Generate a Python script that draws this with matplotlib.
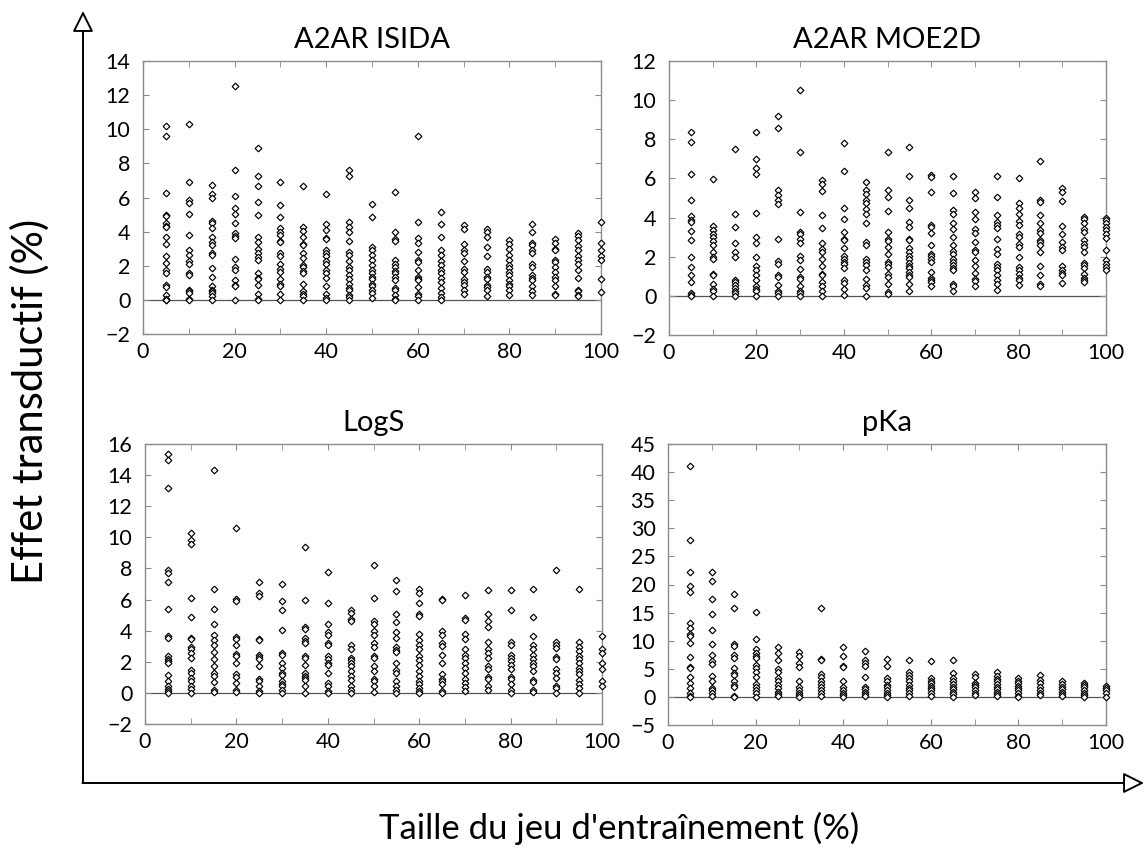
import numpy as np
import matplotlib
matplotlib.use("Agg")
import matplotlib.pyplot as plt
from matplotlib.patches import FancyArrowPatch

plt.rcParams['font.family'] = ['Lato', 'DejaVu Sans']

# training set sizes (%)
sizes = [5, 10, 15, 20, 25, 30, 35, 40, 45, 50, 55, 60, 65, 70, 75, 80, 85, 90, 95, 100]

titles = ["A2AR ISIDA", "A2AR MOE2D", "LogS", "pKa"]

# transductive effect (%), one list per training size
isida = [
    [10.2, 9.6, 6.25, 5.0, 4.9, 4.5, 4.35, 4.25, 3.7, 3.3, 2.6, 2.15, 1.75, 1.55, 0.85, 0.75, 0.3, 0.05, 0.0, 0.0],
    [10.3, 6.9, 5.85, 5.65, 5.05, 3.8, 2.9, 2.65, 2.25, 2.1, 1.6, 1.45, 0.6, 0.5, 0.4, 0.05, 0.0],
    [6.75, 6.2, 6.0, 4.6, 4.5, 4.2, 3.7, 3.4, 3.2, 2.75, 2.65, 1.85, 1.35, 0.8, 0.6, 0.5, 0.4, 0.2, 0.0],
    [12.55, 7.6, 6.1, 5.4, 5.05, 4.5, 3.9, 3.75, 3.6, 2.4, 1.95, 1.75, 1.15, 0.9, 0.8, 0.0],
    [8.9, 7.25, 6.65, 5.75, 4.95, 3.7, 3.4, 3.0, 2.75, 2.5, 2.35, 1.55, 1.3, 1.2, 0.9, 0.35, 0.05, 0.0],
    [6.9, 5.55, 4.85, 4.2, 3.95, 3.8, 3.45, 3.4, 2.75, 2.55, 2.1, 1.8, 1.65, 1.25, 0.95, 0.8, 0.35, 0.0],
    [6.7, 4.3, 4.05, 3.7, 3.3, 3.2, 2.75, 2.45, 2.05, 1.9, 1.7, 1.55, 0.95, 0.5, 0.35, 0.2, 0.0],
    [6.2, 4.45, 4.1, 3.65, 3.55, 2.9, 2.75, 2.55, 2.3, 2.1, 1.75, 1.55, 1.3, 0.8, 0.35, 0.1, 0.0],
    [7.6, 7.25, 4.55, 4.3, 3.95, 3.45, 2.8, 2.65, 2.25, 1.95, 1.75, 1.45, 1.25, 0.95, 0.7, 0.55, 0.3, 0.15, 0.0],
    [5.6, 4.85, 3.1, 2.9, 2.65, 2.35, 2.05, 1.75, 1.55, 1.35, 1.2, 0.95, 0.8, 0.6, 0.4, 0.1],
    [6.3, 3.95, 3.55, 3.45, 2.35, 2.1, 1.9, 1.7, 1.55, 1.35, 1.15, 0.7, 0.55, 0.3, 0.05, 0.0],
    [9.6, 4.55, 3.6, 3.35, 2.8, 2.35, 2.2, 1.75, 1.35, 1.25, 1.15, 0.75, 0.35, 0.2, 0.0],
    [5.15, 4.45, 3.7, 2.95, 2.65, 2.25, 2.05, 1.75, 1.55, 1.3, 1.05, 0.7, 0.4, 0.15, 0.0],
    [4.4, 4.15, 3.3, 2.9, 2.75, 2.25, 1.8, 1.65, 1.2, 1.05, 0.9, 0.6, 0.35],
    [4.15, 3.95, 3.7, 3.1, 2.6, 1.8, 1.65, 1.35, 1.2, 0.9, 0.75, 0.6, 0.2],
    [3.5, 3.3, 3.0, 2.65, 2.35, 2.05, 1.85, 1.65, 1.45, 1.15, 0.95, 0.8, 0.6, 0.3],
    [4.45, 3.95, 3.35, 3.2, 2.9, 2.75, 2.1, 1.95, 1.45, 1.3, 1.15, 0.8, 0.5, 0.3],
    [3.55, 3.35, 3.0, 2.9, 2.35, 2.2, 1.95, 1.65, 1.35, 1.15, 0.8, 0.35, 0.3],
    [3.9, 3.75, 3.5, 3.15, 2.95, 2.55, 2.35, 2.1, 1.75, 1.3, 0.6, 0.5, 0.3, 0.2],
    [4.55, 3.35, 2.95, 2.55, 2.35, 1.25, 0.45],
]

moe2d = [
    [8.35, 7.85, 6.25, 4.9, 4.1, 3.9, 3.75, 3.3, 2.85, 2.0, 1.45, 1.05, 0.7, 0.15, 0.05, 0.0],
    [5.95, 3.55, 3.35, 3.15, 3.0, 2.8, 2.6, 2.25, 2.0, 1.9, 1.1, 1.05, 0.6, 0.35, 0.25, 0.0],
    [7.5, 4.2, 3.5, 2.7, 2.25, 2.0, 0.8, 0.7, 0.55, 0.4, 0.25, 0.15, 0.0],
    [8.35, 7.0, 6.55, 6.25, 4.25, 3.0, 2.7, 2.0, 1.55, 1.3, 1.05, 0.8, 0.5, 0.35, 0.25, 0.0],
    [9.2, 8.6, 5.4, 5.15, 4.9, 4.7, 2.9, 1.8, 1.65, 1.05, 0.95, 0.55, 0.25, 0.15, 0.0],
    [10.5, 7.35, 4.3, 3.25, 3.15, 2.9, 2.7, 2.05, 1.85, 1.35, 0.95, 0.85, 0.5, 0.25, 0.15, 0.0],
    [5.9, 5.7, 5.35, 4.15, 3.45, 2.7, 2.4, 2.25, 1.9, 1.55, 1.1, 1.05, 0.7, 0.5, 0.25, 0.0],
    [7.8, 6.4, 4.5, 3.95, 3.25, 2.9, 2.85, 2.45, 2.05, 1.9, 1.75, 1.65, 1.4, 0.8, 0.65, 0.35, 0.05],
    [5.8, 5.4, 5.2, 4.9, 4.75, 4.45, 4.2, 3.7, 2.75, 2.6, 1.9, 1.75, 1.6, 1.3, 0.85, 0.55, 0.4, 0.0],
    [7.35, 5.4, 5.05, 4.35, 3.25, 2.9, 2.8, 2.5, 2.15, 1.75, 1.65, 1.45, 1.1, 0.95, 0.6, 0.2, 0.1],
    [7.6, 6.1, 4.9, 4.5, 3.75, 3.5, 2.9, 2.85, 2.45, 2.25, 2.05, 1.9, 1.7, 1.55, 1.4, 1.2, 1.05, 0.95, 0.6, 0.25],
    [6.15, 6.05, 5.3, 3.6, 3.5, 3.2, 2.6, 2.15, 2.05, 1.9, 1.75, 1.2, 0.9, 0.8, 0.7, 0.5],
    [6.1, 5.25, 4.4, 4.2, 3.7, 3.4, 3.0, 2.6, 2.3, 2.15, 1.9, 1.75, 1.6, 1.4, 1.3, 0.6, 0.5, 0.25],
    [5.3, 5.0, 4.3, 3.95, 3.4, 3.2, 2.75, 2.35, 2.25, 1.85, 1.55, 1.15, 0.85, 0.75, 0.5],
    [6.1, 5.05, 4.15, 3.75, 3.6, 3.45, 2.9, 2.4, 2.15, 1.65, 1.45, 1.3, 1.05, 0.8, 0.6, 0.3],
    [6.0, 4.75, 4.5, 4.2, 3.85, 3.6, 3.15, 3.0, 2.65, 2.5, 2.0, 1.45, 1.3, 1.1, 0.9, 0.8, 0.55],
    [6.9, 4.9, 4.8, 4.15, 3.7, 3.35, 3.2, 2.85, 2.75, 2.6, 2.25, 1.55, 1.05, 0.6, 0.5],
    [5.5, 5.3, 4.85, 3.55, 3.15, 2.75, 2.5, 2.35, 1.55, 1.3, 1.15, 1.05, 0.65],
    [4.05, 3.95, 3.7, 3.4, 3.25, 2.85, 2.65, 2.5, 2.25, 1.7, 1.6, 1.4, 1.1, 0.9, 0.8, 0.7],
    [4.0, 3.9, 3.7, 3.5, 3.35, 3.15, 2.95, 2.35, 1.85, 1.65, 1.5, 1.3],
]

logs = [
    [15.35, 14.95, 13.2, 7.9, 7.7, 7.1, 5.4, 3.65, 3.55, 2.35, 2.2, 2.05, 1.95, 1.15, 0.75, 0.45, 0.25, 0.1, 0.0],
    [10.3, 9.8, 9.6, 6.1, 4.85, 3.55, 3.45, 2.95, 2.8, 2.55, 2.25, 1.45, 1.25, 0.95, 0.75, 0.45, 0.25, 0.0],
    [14.3, 6.65, 5.4, 4.45, 3.7, 3.4, 3.1, 2.6, 2.15, 1.75, 1.3, 1.1, 0.7, 0.2, 0.05],
    [10.6, 6.05, 5.9, 3.6, 3.45, 3.1, 2.5, 2.4, 1.95, 1.2, 1.05, 0.65, 0.2, 0.05],
    [7.15, 6.4, 6.2, 3.45, 3.4, 2.45, 2.3, 2.15, 1.75, 0.9, 0.75, 0.45, 0.15, 0.0],
    [7.0, 5.9, 5.35, 4.05, 2.55, 2.45, 1.9, 1.6, 1.3, 1.15, 0.75, 0.6, 0.45, 0.2, 0.0],
    [9.4, 6.0, 4.25, 4.1, 3.55, 3.35, 3.2, 2.35, 2.25, 1.8, 1.3, 1.1, 0.95, 0.8, 0.45, 0.0],
    [7.8, 5.8, 4.4, 3.9, 3.75, 3.2, 3.05, 2.4, 2.15, 1.95, 1.8, 1.3, 0.65, 0.45, 0.1, 0.0],
    [5.3, 5.15, 4.75, 4.6, 3.1, 2.8, 2.25, 2.1, 1.95, 1.7, 1.4, 1.1, 0.8, 0.45, 0.2, 0.0],
    [8.2, 6.1, 4.65, 4.45, 3.95, 3.7, 3.2, 2.95, 2.4, 2.25, 1.75, 1.4, 0.9, 0.75, 0.45, 0.05],
    [7.25, 6.55, 5.05, 4.55, 3.9, 3.55, 2.95, 2.75, 2.6, 1.95, 1.5, 1.3, 0.75, 0.45, 0.2, 0.0],
    [6.65, 6.45, 5.8, 5.1, 4.95, 3.8, 3.4, 3.05, 2.8, 2.35, 2.1, 1.8, 1.4, 1.1, 0.75, 0.55, 0.3, 0.1, 0.0],
    [6.05, 5.95, 3.95, 3.75, 3.2, 3.0, 2.45, 1.95, 1.2, 0.9, 0.75, 0.55, 0.1, 0.0],
    [6.3, 4.8, 4.7, 3.8, 3.45, 2.8, 2.45, 2.25, 1.95, 1.6, 1.3, 0.9, 0.65, 0.4, 0.15],
    [6.6, 5.1, 4.65, 4.25, 3.25, 2.8, 2.55, 2.25, 1.7, 1.55, 1.05, 0.9, 0.45, 0.2],
    [6.6, 5.35, 3.25, 3.1, 2.45, 2.25, 2.05, 1.8, 1.55, 1.05, 0.9, 0.6, 0.2, 0.0],
    [6.7, 4.9, 3.65, 3.1, 2.8, 2.45, 2.2, 1.95, 1.7, 1.4, 0.85, 0.7, 0.2, 0.05],
    [7.9, 3.25, 3.1, 2.9, 2.3, 2.15, 1.55, 1.3, 0.95, 0.45, 0.3, 0.0],
    [6.7, 3.3, 2.95, 2.7, 2.35, 2.15, 1.9, 1.6, 1.4, 1.2, 0.85, 0.55, 0.3, 0.0],
    [3.65, 2.8, 2.55, 1.9, 1.55, 0.75, 0.45],
]

pka = [
    [41.0, 27.9, 22.15, 19.65, 18.6, 13.1, 12.2, 11.2, 10.9, 9.55, 7.05, 5.4, 5.1, 3.6, 2.55, 1.55, 0.65, 0.2, 0.0],
    [22.15, 20.65, 17.4, 14.8, 11.95, 9.4, 7.5, 6.3, 5.9, 3.75, 2.75, 1.55, 1.15, 0.65, 0.2],
    [18.35, 15.9, 9.4, 9.1, 7.5, 6.9, 5.1, 4.2, 3.9, 2.75, 2.15, 1.85, 0.2, 0.0],
    [15.1, 10.3, 8.5, 7.9, 7.3, 6.9, 5.7, 5.1, 4.5, 3.6, 2.3, 1.85, 1.25, 0.65, 0.0],
    [8.95, 7.9, 6.6, 4.95, 4.5, 3.3, 2.9, 2.15, 1.55, 0.95, 0.55, 0.2],
    [7.95, 7.3, 6.1, 5.4, 2.75, 1.7, 1.25, 0.75, 0.35, 0.0],
    [15.8, 6.7, 6.5, 4.1, 3.6, 2.9, 2.3, 1.7, 1.25, 0.65, 0.2],
    [8.95, 7.3, 5.5, 5.3, 2.9, 1.85, 1.15, 0.75, 0.35, 0.0],
    [8.25, 6.6, 6.1, 5.5, 3.6, 1.85, 1.35, 0.95, 0.55, 0.2],
    [6.7, 5.5, 3.3, 2.9, 2.15, 1.85, 1.25, 0.75, 0.35, 0.0],
    [6.5, 4.35, 3.9, 3.3, 2.75, 2.15, 1.55, 1.15, 0.65, 0.2],
    [6.4, 3.3, 2.9, 2.45, 1.95, 1.55, 1.15, 0.65, 0.2],
    [6.5, 4.2, 3.3, 2.75, 2.3, 1.85, 1.35, 0.95, 0.55, 0.05],
    [4.05, 3.6, 2.55, 2.15, 1.7, 1.25, 0.75, 0.35],
    [4.5, 3.75, 3.15, 2.75, 2.3, 1.85, 1.35, 0.95, 0.55, 0.2],
    [3.3, 2.9, 2.45, 1.95, 1.55, 1.15, 0.65, 0.2, 0.0],
    [3.9, 3.05, 2.45, 1.85, 1.25, 0.75, 0.35],
    [2.75, 2.3, 1.85, 1.35, 0.95, 0.55, 0.2],
    [2.55, 2.15, 1.7, 1.25, 0.75, 0.35, 0.0],
    [1.95, 1.55, 1.15, 0.65, 0.0],
]

datasets = [isida, moe2d, logs, pka]
ylims = [(-2, 14), (-2, 12), (-2, 16), (-5, 45)]
ysteps = [2, 2, 2, 5]

W, H = 1145, 852
fig = plt.figure(figsize=(W / 100, H / 100), dpi=100)

# axes boxes in pixels: left, top, right, bottom
boxes = [(143, 61, 601, 334), (669, 61, 1106, 335),
         (145, 444, 602, 724), (668, 444, 1106, 725)]

frame_col = '#8c8c8c'
for k in range(4):
    l, t, r, b = boxes[k]
    ax = fig.add_axes([l / W, 1 - b / H, (r - l) / W, (b - t) / H])
    xs, ys = [], []
    for s, vals in zip(sizes, datasets[k]):
        xs += [s] * len(vals)
        ys += vals
    ax.axhline(0, color='#555555', lw=0.9, zorder=1)
    ax.plot(xs, ys, linestyle='none', marker='D', ms=3.4, mfc='white',
            mec='black', mew=0.85, zorder=3, clip_on=False)
    ax.set_xlim(0, 100)
    ax.set_ylim(*ylims[k])
    ax.set_xticks(range(0, 101, 20))
    ax.set_xticks(range(10, 100, 20), minor=True)
    ax.set_yticks(np.arange(ylims[k][0], ylims[k][1] + 0.1, ysteps[k]))
    ax.tick_params(which='both', direction='in', top=True, right=True,
                   color=frame_col, labelsize=15.5, length=4)
    ax.tick_params(axis='y', pad=9)
    ax.tick_params(axis='x', pad=6)
    for sp in ax.spines.values():
        sp.set_color(frame_col)
        sp.set_linewidth(1.0)
    ax.set_title(titles[k], fontsize=21, pad=9)

# big L-shaped axis arrows
ax0 = 83 / W
ay0 = 1 - 783 / H
style = '-|>,head_length=0.8,head_width=0.4'
fig.add_artist(FancyArrowPatch((ax0, ay0), (ax0, 1 - 11 / H), transform=fig.transFigure,
                               arrowstyle=style, mutation_scale=16, lw=1.4,
                               color='black', fc='white', shrinkA=0, shrinkB=0))
fig.add_artist(FancyArrowPatch((ax0 - 0.6 / W, ay0), (1144 / W, ay0), transform=fig.transFigure,
                               arrowstyle=style, mutation_scale=16, lw=1.4,
                               color='black', fc='white', shrinkA=0, shrinkB=0))

fig.text(30 / W, 1 - 401 / H, "Effet transductif (%)", rotation=90,
         ha='center', va='center', fontsize=30)
fig.text(619 / W, 1 - 828 / H, "Taille du jeu d'entraînement (%)",
         ha='center', va='center', fontsize=25)

fig.savefig('out.png', dpi=100)
